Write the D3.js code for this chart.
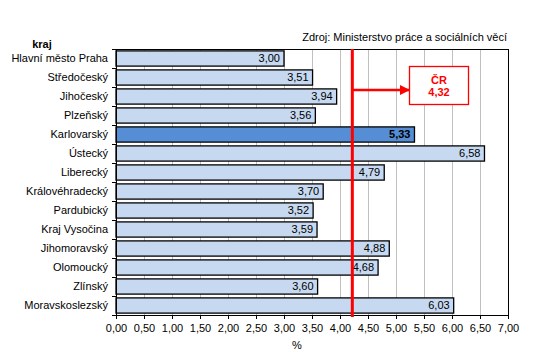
<!DOCTYPE html>
<html><head><meta charset="utf-8">
<script src="https://cdn.jsdelivr.net/npm/d3@7"></script>
<style>body{margin:0;background:#fff}svg{display:block;font-family:"Liberation Sans",Arial,sans-serif}</style>
</head><body><svg id="c" width="535" height="352"></svg>
<script>
const categories = ["Hlavní město Praha","Středočeský","Jihočeský","Plzeňský","Karlovarský","Ústecký","Liberecký","Královéhradecký","Pardubický","Kraj Vysočina","Jihomoravský","Olomoucký","Zlínský","Moravskoslezský"];
const values = [3.00,3.51,3.94,3.56,5.33,6.58,4.79,3.70,3.52,3.59,4.88,4.68,3.60,6.03];
const highlighted = ["Karlovarský"];
const xTicks = [0,0.5,1,1.5,2,2.5,3,3.5,4,4.5,5,5.5,6,6.5,7];
const crLabel = ["ČR","4,32"];
const crLinePos = [4.22];
const sourceText = "Zdroj: Ministerstvo práce a sociálních věcí";
const axisTitle = "kraj";
const xTitle = "%";

const fmt = v => d3.format(".2f")(v).replace(".", ",");
const svg = d3.select("#c");
const m = {l:116, r:508, t:49, b:315};
const x = d3.scaleLinear().domain([0,7]).range([m.l, m.r]);
const y = d3.scaleBand().domain(categories).range([m.t, m.b]).paddingInner(0.2).paddingOuter(0.1);

// gridlines
svg.append("g").selectAll("line").data(xTicks.filter(t=>t>0 && t<7)).join("line")
  .attr("x1", d=>x(d)).attr("x2", d=>x(d)).attr("y1", m.t).attr("y2", m.b)
  .attr("stroke", "#c0c0c0").attr("stroke-width", 1).attr("shape-rendering","crispEdges");
// plot border top/right
svg.append("path").attr("d", `M${m.l},${m.t}H${m.r}V${m.b}`).attr("fill","none")
  .attr("stroke","#000").attr("stroke-width",1).attr("shape-rendering","crispEdges");

// bars
svg.append("g").selectAll("rect").data(categories).join("rect")
  .attr("x", x(0)).attr("y", d=>y(d))
  .attr("width", (d,i)=>x(values[i])-x(0)).attr("height", y.bandwidth())
  .attr("fill", d=>highlighted.includes(d) ? "#558ED5" : "#C6D9F1")
  .attr("stroke", "#000").attr("stroke-width", 1.3);

// value labels
svg.append("g").selectAll("text").data(categories).join("text")
  .attr("x", (d,i)=>x(values[i]) - 4).attr("y", d=>y(d)+y.bandwidth()/2)
  .attr("dy","0.35em").attr("text-anchor","end").attr("font-size", 11)
  .attr("font-weight", d=>highlighted.includes(d) ? "bold" : "normal")
  .attr("fill","#000").text((d,i)=>fmt(values[i]));

// y axis
const yAxis = d3.axisLeft(y).tickSize(0).tickPadding(8);
const gy = svg.append("g").attr("transform", `translate(${m.l},0)`).call(yAxis);
gy.select(".domain").attr("stroke","#000");
gy.selectAll("text").attr("font-size", 11).attr("fill","#000").attr("font-family","Liberation Sans, Arial, sans-serif");
// band boundary ticks
const step = y.step();
const bounds = d3.range(categories.length+1).map(i => m.t + i*(m.b-m.t)/categories.length);
svg.append("g").selectAll("line").data(bounds).join("line")
  .attr("x1", m.l-4).attr("x2", m.l).attr("y1", d=>d).attr("y2", d=>d)
  .attr("stroke","#000").attr("shape-rendering","crispEdges");

// x axis
const xAxis = d3.axisBottom(x).tickValues(xTicks).tickSize(4).tickSizeOuter(0).tickPadding(5).tickFormat(fmt);
const gx = svg.append("g").attr("transform", `translate(0,${m.b})`).call(xAxis);
gx.select(".domain").attr("stroke","#000");
gx.selectAll(".tick line").attr("stroke","#000");
gx.selectAll("text").attr("font-size", 11).attr("fill","#000").attr("font-family","Liberation Sans, Arial, sans-serif");

// CR line
svg.append("line").attr("x1", x(crLinePos[0])).attr("x2", x(crLinePos[0]))
  .attr("y1", m.t).attr("y2", m.b+2).attr("stroke", "#ff0000").attr("stroke-width", 3);
// arrow
svg.append("defs").append("marker").attr("id","ah").attr("viewBox","0 0 10 10")
  .attr("refX",9).attr("refY",5).attr("markerWidth",4).attr("markerHeight",4)
  .attr("markerUnits","strokeWidth").attr("orient","auto")
  .append("path").attr("d","M0,0L10,5L0,10z").attr("fill","#ff0000");
svg.append("line").attr("x1", x(crLinePos[0])).attr("x2", 409).attr("y1", 90).attr("y2", 90)
  .attr("stroke","#ff0000").attr("stroke-width",2.5).attr("marker-end","url(#ah)");
svg.append("rect").attr("x",409.5).attr("y",66.5).attr("width",59).attr("height",38)
  .attr("fill","#fff").attr("stroke","#ff0000").attr("stroke-width",1.3);
svg.append("text").attr("x",439).attr("y",84).attr("text-anchor","middle").attr("font-size",11)
  .attr("font-weight","bold").attr("fill","#ff0000").text(crLabel[0]);
svg.append("text").attr("x",439).attr("y",96).attr("text-anchor","middle").attr("font-size",11)
  .attr("font-weight","bold").attr("fill","#ff0000").text(crLabel[1]);

// titles
svg.append("text").attr("x",507).attr("y",41).attr("text-anchor","end").attr("font-size",11)
  .attr("fill","#000").text(sourceText);
svg.append("text").attr("x",42).attr("y",48).attr("text-anchor","middle").attr("font-size",11)
  .attr("font-weight","bold").attr("fill","#000").text(axisTitle);
svg.append("text").attr("x",297).attr("y",349).attr("text-anchor","middle").attr("font-size",11)
  .attr("fill","#000").text(xTitle);
</script></body></html>
